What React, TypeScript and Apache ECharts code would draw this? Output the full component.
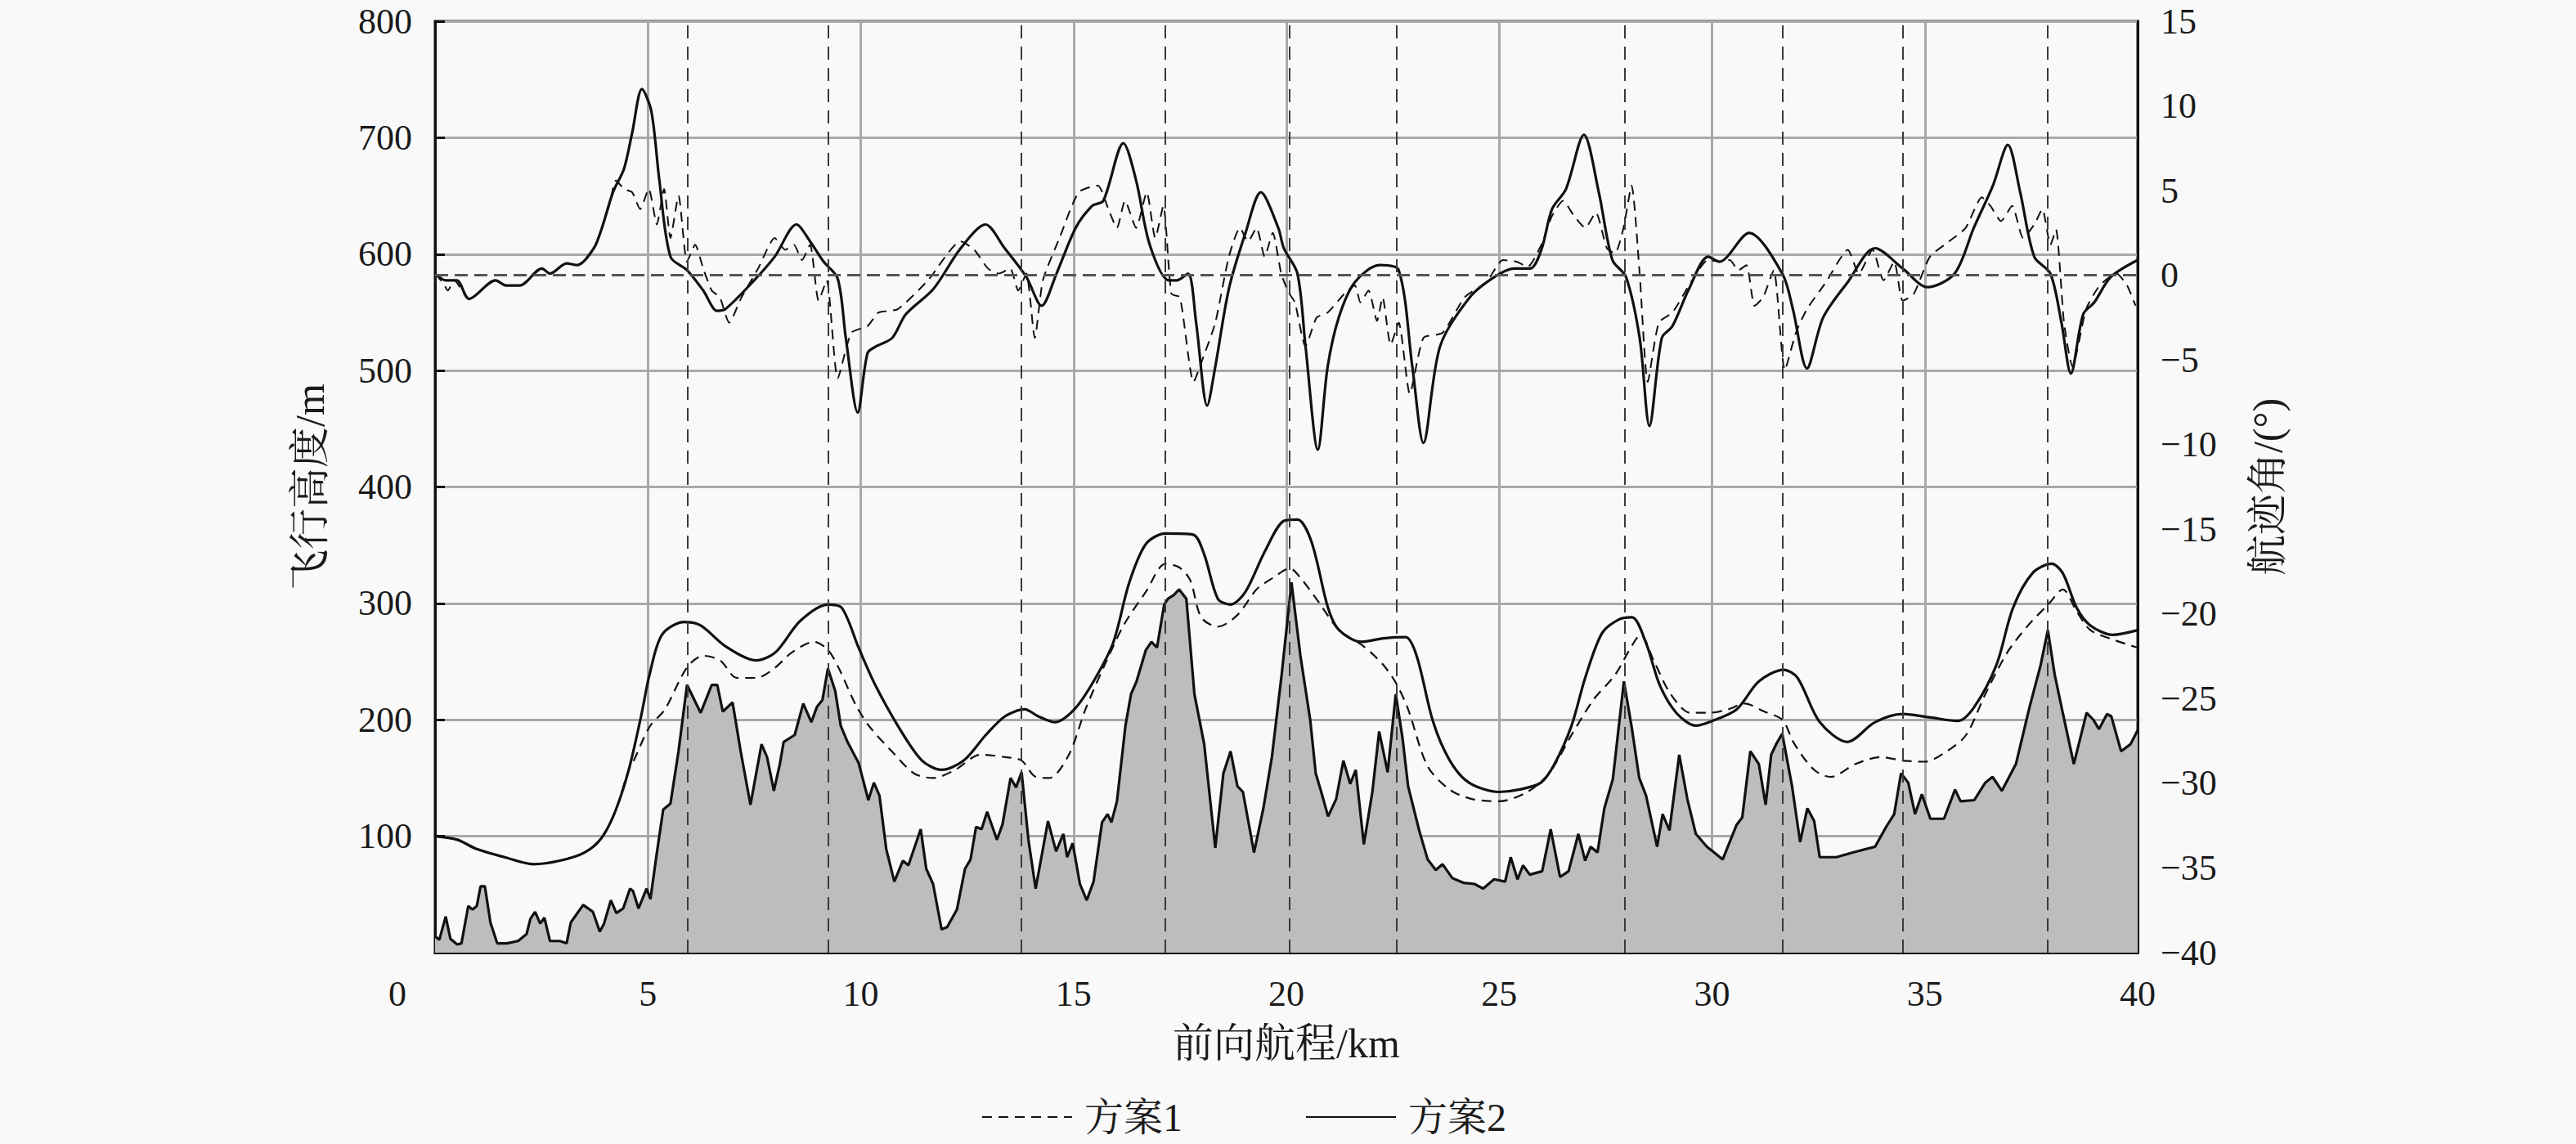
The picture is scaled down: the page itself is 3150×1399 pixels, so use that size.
import React, { useEffect, useRef } from "react";
import * as echarts from "echarts";

// ---------------- data ----------------
const terrainKm = [0, 0.1, 0.25, 0.36, 0.52, 0.62, 0.78, 0.88, 0.98, 1.07, 1.17, 1.3, 1.46, 1.69, 1.95, 2.15, 2.24, 2.35, 2.47, 2.57, 2.7, 2.93, 3.09, 3.19, 3.48, 3.71, 3.87, 3.97, 4.13, 4.26, 4.42, 4.58, 4.65, 4.78, 4.97, 5.06, 5.2, 5.36, 5.53, 5.72, 5.92, 6.24, 6.5, 6.63, 6.76, 6.99, 7.18, 7.41, 7.67, 7.8, 7.96, 8.1, 8.19, 8.45, 8.65, 8.84, 8.97, 9.1, 9.23, 9.4, 9.53, 9.69, 9.95, 10.18, 10.31, 10.44, 10.6, 10.79, 10.99, 11.12, 11.41, 11.54, 11.7, 11.9, 12.03, 12.26, 12.45, 12.58, 12.71, 12.84, 12.97, 13.2, 13.33, 13.52, 13.65, 13.78, 13.94, 14.11, 14.4, 14.59, 14.76, 14.85, 14.98, 15.15, 15.31, 15.47, 15.67, 15.8, 15.89, 16.02, 16.22, 16.35, 16.48, 16.7, 16.83, 16.96, 17.13, 17.22, 17.35, 17.48, 17.65, 17.84, 18.07, 18.33, 18.52, 18.69, 18.85, 18.98, 19.24, 19.46, 19.66, 19.89, 20.12, 20.33, 20.56, 20.69, 20.82, 20.98, 21.17, 21.34, 21.5, 21.63, 21.82, 22.02, 22.18, 22.38, 22.57, 22.73, 22.86, 23.12, 23.32, 23.51, 23.67, 23.9, 24.16, 24.42, 24.62, 24.88, 25.14, 25.27, 25.43, 25.56, 25.72, 26.01, 26.21, 26.43, 26.63, 26.86, 27.02, 27.15, 27.31, 27.47, 27.67, 27.93, 28.12, 28.29, 28.45, 28.71, 28.84, 29.0, 29.23, 29.42, 29.62, 29.88, 30.05, 30.25, 30.58, 30.71, 30.9, 31.1, 31.26, 31.39, 31.52, 31.65, 31.88, 32.07, 32.24, 32.4, 32.53, 32.92, 33.31, 33.83, 34.09, 34.28, 34.44, 34.61, 34.77, 34.93, 35.13, 35.45, 35.71, 35.84, 36.16, 36.42, 36.59, 36.81, 37.14, 37.46, 37.72, 37.89, 38.05, 38.24, 38.5, 38.8, 38.96, 39.09, 39.28, 39.38, 39.61, 39.83, 40];
const terrainH = [14, 11, 31, 12, 7, 8, 40, 37, 40, 57, 57, 26, 8, 8, 10, 16, 29, 35, 25, 30, 10, 10, 8, 26, 41, 35, 18, 25, 45, 34, 38, 55, 53, 38, 55, 46, 83, 123, 128, 173, 230, 206, 230, 230, 207, 215, 173, 127, 179, 168, 139, 162, 181, 187, 214, 198, 211, 217, 244, 225, 195, 181, 163, 131, 146, 135, 89, 61, 79, 75, 106, 72, 59, 20, 22, 37, 72, 80, 108, 106, 121, 97, 110, 150, 142, 155, 97, 55, 113, 87, 102, 82, 94, 59, 45, 61, 112, 119, 112, 130, 195, 222, 233, 260, 267, 262, 299, 304, 307, 312, 304, 222, 179, 90, 154, 173, 143, 138, 86, 124, 168, 239, 318, 255, 200, 154, 138, 117, 132, 165, 145, 157, 93, 138, 190, 155, 222, 184, 143, 105, 80, 71, 76, 64, 60, 59, 55, 63, 61, 82, 63, 75, 67, 70, 106, 65, 70, 102, 79, 91, 86, 124, 149, 233, 192, 150, 135, 91, 119, 105, 170, 132, 102, 91, 86, 80, 110, 116, 173, 162, 127, 170, 180, 188, 143, 95, 124, 113, 82, 82, 86, 91, 108, 119, 154, 146, 119, 136, 115, 115, 140, 130, 131, 146, 151, 139, 162, 211, 247, 277, 239, 206, 162, 206, 200, 192, 205, 203, 173, 179, 191];

const plan2AltKm = [0, 0.52, 0.98, 1.63, 2.31, 2.93, 3.51, 3.9, 4.23, 4.55, 4.84, 5.04, 5.33, 5.85, 6.24, 6.83, 7.54, 8.0, 8.58, 9.23, 9.56, 9.95, 10.34, 10.92, 11.44, 11.9, 12.42, 12.94, 13.39, 13.85, 14.17, 14.56, 15.02, 15.47, 15.93, 16.31, 16.7, 17.16, 17.81, 18.07, 18.39, 18.69, 19.04, 19.5, 19.95, 20.26, 20.59, 20.98, 21.24, 21.76, 22.28, 22.8, 23.06, 23.45, 23.84, 24.29, 25.0, 25.46, 25.98, 26.3, 26.7, 27.02, 27.41, 27.8, 28.12, 28.45, 28.77, 29.16, 29.62, 30.0, 30.58, 31.1, 31.68, 32.01, 32.53, 33.18, 33.83, 34.48, 35.13, 35.77, 36.16, 36.68, 37.07, 37.53, 37.98, 38.24, 38.57, 38.89, 39.41, 40];
const plan2AltH = [100, 97, 89, 82, 76, 79, 86, 98, 121, 157, 203, 239, 273, 284, 281, 263, 251, 258, 285, 299, 296, 262, 230, 192, 165, 157, 165, 187, 203, 209, 203, 198, 209, 233, 266, 318, 351, 360, 359, 342, 304, 299, 310, 345, 371, 372, 353, 296, 277, 267, 270, 271, 255, 198, 165, 146, 138, 140, 146, 162, 195, 236, 274, 286, 288, 266, 230, 206, 195, 199, 209, 233, 243, 236, 198, 181, 198, 205, 202, 199, 211, 247, 296, 326, 334, 326, 296, 281, 273, 277];

const plan1AltKm = [0, 0.52, 0.98, 1.63, 2.31, 2.93, 3.51, 3.9, 4.23, 4.55, 4.68, 5.04, 5.4, 5.92, 6.3, 6.7, 7.09, 7.54, 7.93, 8.39, 8.9, 9.23, 9.49, 9.88, 10.21, 10.73, 11.25, 11.7, 12.22, 12.81, 13.39, 13.78, 14.11, 14.43, 14.89, 15.28, 15.73, 16.19, 16.7, 17.16, 17.48, 17.74, 18.0, 18.39, 18.85, 19.3, 19.69, 20.08, 20.33, 20.78, 21.24, 21.82, 22.28, 22.6, 22.86, 23.32, 23.84, 24.36, 25.0, 25.66, 26.17, 26.7, 27.21, 27.73, 28.06, 28.32, 28.64, 29.03, 29.49, 29.93, 30.38, 30.77, 31.23, 31.65, 31.94, 32.4, 32.79, 33.37, 33.96, 34.48, 35.0, 35.52, 35.97, 36.42, 36.94, 37.4, 37.92, 38.24, 38.57, 38.89, 39.41, 40];
const plan1AltH = [100, 97, 89, 82, 76, 79, 86, 98, 121, 157, 166, 194, 209, 245, 255, 251, 236, 236, 243, 258, 267, 260, 244, 213, 194, 173, 154, 150, 157, 170, 168, 165, 151, 150, 170, 209, 247, 282, 310, 334, 331, 320, 288, 280, 290, 312, 322, 330, 322, 300, 277, 263, 247, 230, 209, 160, 140, 132, 130, 138, 154, 187, 217, 239, 260, 273, 250, 222, 206, 206, 209, 214, 207, 200, 179, 157, 151, 162, 168, 165, 164, 173, 187, 222, 258, 280, 300, 312, 293, 277, 269, 262];

const plan2AngKm = [0, 0.26, 0.51, 0.8, 1.42, 1.67, 1.99, 2.51, 2.7, 3.09, 3.34, 3.73, 3.92, 4.18, 4.44, 4.63, 4.86, 5.08, 5.27, 5.53, 5.92, 6.3, 6.63, 6.82, 7.46, 7.98, 8.49, 8.81, 9.13, 9.46, 9.65, 9.93, 10.16, 10.36, 10.74, 11.06, 11.71, 12.35, 12.93, 13.38, 13.89, 14.25, 14.6, 15.05, 15.44, 15.7, 16.17, 16.47, 16.79, 17.24, 17.43, 17.69, 17.88, 18.14, 18.33, 18.65, 19.04, 19.4, 19.81, 19.94, 20.26, 20.45, 20.74, 20.97, 21.23, 21.61, 22.19, 22.64, 22.96, 23.22, 23.61, 24.31, 24.89, 25.34, 25.73, 25.99, 26.24, 26.57, 26.99, 27.34, 27.66, 27.98, 28.3, 28.53, 28.82, 29.07, 29.46, 29.91, 30.17, 30.87, 31.65, 31.9, 32.23, 32.61, 33.19, 33.83, 34.48, 35.06, 35.7, 36.15, 36.6, 36.95, 37.24, 37.57, 37.95, 38.21, 38.43, 38.72, 38.98, 39.37, 40];
const plan2AngDeg = [0.1, -0.3, -0.3, -1.4, -0.3, -0.6, -0.6, 0.4, 0.1, 0.7, 0.6, 1.6, 2.8, 4.9, 6.3, 8.4, 11.0, 9.7, 5.6, 1.1, 0.3, -0.9, -2.1, -2.0, -0.4, 1.1, 3.0, 2.0, 0.8, -0.2, -3.7, -8.1, -4.6, -4.2, -3.7, -2.3, -0.8, 1.6, 3.0, 1.6, -0.1, -1.8, 0.1, 2.8, 4.1, 4.4, 7.8, 5.6, 1.8, -0.3, -0.3, 0.1, -2.8, -7.7, -5.4, -0.8, 2.5, 4.9, 2.8, 1.6, 0.1, -4.2, -10.3, -5.4, -2.5, -0.4, 0.6, 0.3, -5.4, -9.9, -4.2, -1.3, -0.1, 0.4, 0.4, 1.5, 3.9, 5.1, 8.3, 4.9, 0.9, -0.1, -3.7, -8.9, -3.7, -3.0, -0.8, 1.1, 0.8, 2.5, 0.1, -2.0, -5.5, -2.5, -0.4, 1.6, 0.4, -0.7, 0.1, 2.8, 5.3, 7.7, 4.9, 1.1, 0.1, -2.8, -5.8, -2.3, -1.6, -0.1, 0.9];

const plan1AngKm = [0, 0.2, 0.3, 0.45, 0.8, 1.42, 1.67, 1.99, 2.51, 2.7, 3.09, 3.34, 3.73, 3.92, 4.1, 4.25, 4.44, 4.63, 4.82, 5.02, 5.21, 5.38, 5.53, 5.72, 5.92, 6.11, 6.3, 6.5, 6.69, 6.91, 7.2, 7.59, 7.98, 8.23, 8.43, 8.62, 8.81, 9.01, 9.2, 9.46, 9.78, 10.16, 10.42, 10.87, 11.58, 12.35, 12.67, 12.99, 13.25, 13.51, 13.7, 13.89, 14.09, 14.28, 14.67, 15.12, 15.57, 15.82, 16.02, 16.21, 16.47, 16.72, 16.92, 17.11, 17.3, 17.5, 17.82, 18.01, 18.33, 18.65, 18.91, 19.1, 19.3, 19.49, 19.68, 19.88, 20.05, 20.2, 20.45, 20.71, 20.97, 21.36, 21.61, 21.74, 21.93, 22.13, 22.26, 22.45, 22.64, 22.9, 23.22, 23.67, 24.19, 24.7, 25.09, 25.41, 25.67, 25.99, 26.24, 26.5, 26.76, 27.02, 27.27, 27.53, 27.72, 27.92, 28.11, 28.3, 28.49, 28.75, 29.07, 29.46, 29.91, 30.23, 30.42, 30.62, 30.81, 31.0, 31.2, 31.45, 31.71, 31.97, 32.23, 32.68, 33.19, 33.45, 33.77, 34.03, 34.28, 34.48, 34.74, 35.12, 35.57, 35.96, 36.34, 36.54, 36.79, 37.05, 37.31, 37.57, 37.76, 37.95, 38.08, 38.27, 38.47, 38.79, 39.11, 39.5, 39.75, 39.95];
const plan1AngDeg = [0.1, -0.5, -0.9, -0.3, -1.4, -0.3, -0.6, -0.6, 0.4, 0.1, 0.7, 0.6, 1.6, 2.8, 4.2, 5.6, 5.1, 4.9, 3.9, 5.1, 3.0, 5.1, 2.2, 4.7, 0.8, 1.8, 0.4, -0.9, -1.3, -2.8, -1.3, 0.4, 2.2, 1.5, 1.8, 0.9, 1.8, -1.5, -0.3, -6.1, -3.4, -3.0, -2.2, -2.0, -0.3, 2.0, 1.5, 0.4, 0.1, 0.4, -0.9, 0.1, -3.7, -0.3, 2.2, 4.9, 5.3, 3.9, 2.8, 4.4, 2.8, 4.9, 2.2, 4.1, -1.1, -1.3, -6.3, -5.1, -2.8, 1.1, 2.8, 2.0, 2.8, 1.1, 2.5, 0.1, -1.0, -1.6, -4.2, -2.5, -2.2, -1.1, -0.6, -1.6, -0.9, -2.7, -1.3, -4.1, -2.8, -7.0, -3.7, -3.4, -1.3, -0.4, 0.9, 0.8, 0.5, 1.8, 3.5, 4.4, 3.5, 2.8, 3.7, 1.6, 1.3, 2.8, 5.3, 0.1, -6.3, -2.8, -2.2, -0.6, 0.9, 0.8, 0.9, 0.3, 0.6, -1.8, -1.3, 0.3, -5.6, -3.4, -2.0, -0.4, 1.5, 0.1, 1.5, -0.3, 0.8, -1.5, -1.1, 1.1, 2.0, 2.8, 4.6, 4.1, 3.2, 4.1, 2.2, 3.0, 3.9, 1.8, 2.7, -2.8, -5.4, -2.0, -0.6, 0.1, -0.6, -1.8];

const guideKm = [5.94, 9.24, 13.77, 17.15, 20.07, 22.58, 27.94, 31.65, 34.48, 37.89];

const xTicks = { min: 0, max: 40, step: 5 };
const altTicks = { min: 0, max: 800, step: 100 };
const angTicks = { min: -40, max: 15, step: 5 };

// ---------------------------------------------------------------
const zip = (xs: number[], ys: number[]) => xs.map((x, i) => [x, ys[i]]);

const SERIF = "'Liberation Serif','Times New Roman','Noto Serif CJK SC','Noto Sans CJK SC',serif";
const INK = "#1a1a1a";
const GRID = "#a9a9a9";

export default function App() {
  const ref = useRef<HTMLDivElement>(null);

  useEffect(() => {
    if (!ref.current) return;
    const chart = echarts.init(ref.current, undefined, { renderer: "svg" });
    const labelFont = { fontFamily: SERIF, fontSize: 44, color: INK };
    const nameFont = { fontFamily: SERIF, fontSize: 50, color: INK };

    chart.setOption({
      animation: false,
      backgroundColor: "#f9f9f9",
      grid: {
        left: 532,
        right: 536,
        top: 26,
        bottom: 234,
        show: true,
        borderColor: "#111",
        borderWidth: 3,
        backgroundColor: "transparent",
      },
      legend: {
        data: ["方案1", "方案2"],
        left: 1195,
        top: 1337,
        itemWidth: 110,
        itemHeight: 48,
        itemGap: 150,
        itemStyle: { opacity: 0, borderWidth: 0 },
        textStyle: { fontFamily: SERIF, fontSize: 48, color: INK, padding: [0, 0, 0, 10] },
      },
      graphic: [
        {
          type: "text",
          left: 475,
          top: 1193,
          style: { text: "0", fontFamily: SERIF, fontSize: 44, fill: INK },
        },
      ],
      xAxis: {
        type: "value",
        min: xTicks.min,
        max: xTicks.max,
        interval: xTicks.step,
        name: "前向航程/km",
        nameLocation: "middle",
        nameGap: 86,
        nameTextStyle: nameFont,
        axisLine: { show: true, lineStyle: { color: "#111", width: 3 } },
        axisTick: { show: true, inside: true, length: 12, lineStyle: { color: "#111", width: 3 } },
        axisLabel: { ...labelFont, margin: 28, formatter: (v: number) => (v === 0 ? "" : String(v)) },
        splitLine: { show: true, lineStyle: { color: GRID, width: 3 } },
      },
      yAxis: [
        {
          type: "value",
          position: "left",
          min: altTicks.min,
          max: altTicks.max,
          interval: altTicks.step,
          name: "飞行高度/m",
          nameLocation: "middle",
          nameGap: 128,
          nameRotate: 90,
          nameTextStyle: nameFont,
          axisLine: { show: true, lineStyle: { color: "#111", width: 3 } },
          axisTick: { show: true, inside: true, length: 12, lineStyle: { color: "#111", width: 3 } },
          axisLabel: { ...labelFont, margin: 28, formatter: (v: number) => (v === 0 ? "" : String(v)) },
          splitLine: { show: true, lineStyle: { color: GRID, width: 3 } },
        },
        {
          type: "value",
          position: "right",
          min: angTicks.min,
          max: angTicks.max,
          interval: angTicks.step,
          name: "航迹角/(°)",
          nameLocation: "middle",
          nameGap: 134,
          nameRotate: 90,
          nameTextStyle: nameFont,
          axisLine: { show: true, lineStyle: { color: "#111", width: 3 } },
          axisTick: { show: false },
          axisLabel: { ...labelFont, margin: 28, formatter: (v: number) => String(v).replace("-", "\u2212") },
          splitLine: { show: false },
        },
      ],
      series: [
        {
          name: "地形",
          type: "line",
          yAxisIndex: 0,
          data: zip(terrainKm, terrainH),
          symbol: "none",
          lineStyle: { color: "#111", width: 3.2 },
          areaStyle: { color: "#bdbdbd", opacity: 1 },
          z: 2,
          markLine: {
            silent: true,
            symbol: "none",
            label: { show: false },
            lineStyle: { color: "#3a3a3a", type: [16, 10], width: 2 },
            data: guideKm.map((x) => ({ xAxis: x })),
          },
        },
        {
          name: "方案1",
          type: "line",
          yAxisIndex: 0,
          data: zip(plan1AltKm, plan1AltH),
          symbol: "none",
          smooth: 0.3,
          lineStyle: { color: "#111", width: 2.2, type: [12, 8] },
          itemStyle: { color: "#111" },
          z: 3,
        },
        {
          name: "方案2",
          type: "line",
          yAxisIndex: 0,
          data: zip(plan2AltKm, plan2AltH),
          symbol: "none",
          smooth: 0.3,
          lineStyle: { color: "#111", width: 3.2 },
          itemStyle: { color: "#111" },
          z: 4,
        },
        {
          name: "方案1",
          type: "line",
          yAxisIndex: 1,
          data: zip(plan1AngKm, plan1AngDeg),
          symbol: "none",
          smooth: 0.2,
          lineStyle: { color: "#111", width: 2, type: [12, 8] },
          itemStyle: { color: "#111" },
          z: 3,
        },
        {
          name: "方案2",
          type: "line",
          yAxisIndex: 1,
          data: zip(plan2AngKm, plan2AngDeg),
          symbol: "none",
          smooth: 0.3,
          lineStyle: { color: "#111", width: 3.2 },
          itemStyle: { color: "#111" },
          z: 4,
          markLine: {
            silent: true,
            symbol: "none",
            label: { show: false },
            lineStyle: { color: "#555", type: [16, 8], width: 3 },
            data: [{ yAxis: 0 }],
          },
        },
      ],
    });
    return () => chart.dispose();
  }, []);

  return (
    <div
      ref={ref}
      style={{ position: "fixed", left: 0, top: 0, width: 3150, height: 1399, background: "#f9f9f9" }}
    />
  );
}
